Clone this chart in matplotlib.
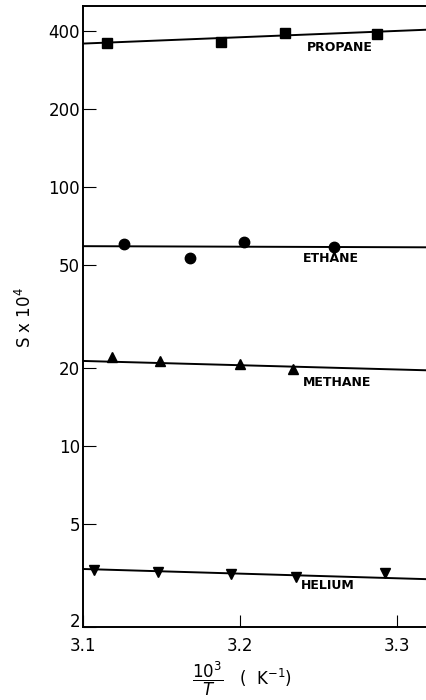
import matplotlib
matplotlib.use("Agg")
import matplotlib.pyplot as plt
import numpy as np

# Data
propane_x = [3.1153, 3.1879, 3.2287, 3.2873]
propane_y = [360, 363, 393, 390]
ethane_x = [3.1261, 3.1682, 3.2025, 3.2599]
ethane_y = [60.2, 53.2, 61.3, 58.6]
methane_x = [3.1185, 3.149, 3.200, 3.2338]
methane_y = [22.0, 21.3, 20.7, 19.8]
helium_x = [3.107, 3.1478, 3.1943, 3.2357, 3.2924]
helium_y = [3.32, 3.26, 3.20, 3.12, 3.23]

# Fitted lines: value at left (3.1) and right end (3.319)
line_x = [3.1, 3.319]
propane_line = [358, 405]
ethane_line = [59.1, 58.5]
methane_line = [21.3, 19.6]
helium_line = [3.35, 3.06]

series_names = ["PROPANE", "ETHANE", "METHANE", "HELIUM"]
label_x = [3.2427, 3.2401, 3.2401, 3.2389]
label_y = [346, 53.0, 17.6, 2.90]

yticks = [2, 5, 10, 20, 50, 100, 200, 400]
xticks = [3.1, 3.2, 3.3]
xtick_labels = ["3.1", "3.2", "3.3"]

fig = plt.figure(figsize=(4.27, 7.0), dpi=100)
ax = fig.add_axes([83/427, 1-627/700, 344/427, 621/700])
ax.set_yscale("log")
ax.set_xlim(3.1, 3.319)
ax.set_ylim(2, 500)

k = "black"
ax.plot(line_x, propane_line, color=k, lw=1.4)
ax.plot(line_x, ethane_line, color=k, lw=1.4)
ax.plot(line_x, methane_line, color=k, lw=1.4)
ax.plot(line_x, helium_line, color=k, lw=1.4)

ax.plot(propane_x, propane_y, ls="none", marker="s", ms=7, color=k)
ax.plot(ethane_x, ethane_y, ls="none", marker="o", ms=7.5, color=k)
ax.plot(methane_x, methane_y, ls="none", marker="^", ms=7.5, color=k)
ax.plot(helium_x, helium_y, ls="none", marker="v", ms=7.5, color=k)

for name, lx, ly in zip(series_names, label_x, label_y):
    ax.text(lx, ly, name, fontsize=9, fontweight="bold", ha="left", va="center",
            family="DejaVu Sans")

ax.set_yticks(yticks)
ax.set_yticklabels([str(v) for v in yticks])
ax.yaxis.set_minor_locator(matplotlib.ticker.NullLocator())
ax.set_xticks(xticks)
ax.set_xticklabels(xtick_labels)
ax.tick_params(axis="y", direction="in", length=9, width=0.8, labelsize=12, pad=2)
ax.tick_params(axis="x", direction="in", length=9, width=0.8, labelsize=12, pad=7)

# lowest y label sits on the bottom line, as in the reference
fig.canvas.draw()
ax.get_yticklabels()[0].set_va("baseline")

ax.spines["right"].set_visible(False)
for s in ["left", "bottom", "top"]:
    ax.spines[s].set_linewidth(1.4)

fig.text(25/427, 1-318/700, r"S x 10$^{4}$", rotation=90, ha="center", va="center", fontsize=12)
fig.text(242/427, 1-679/700, r"$\dfrac{10^3}{T}$   (  K$^{-1}$)", ha="center", va="center", fontsize=12)

fig.savefig("out.png", dpi=100)
